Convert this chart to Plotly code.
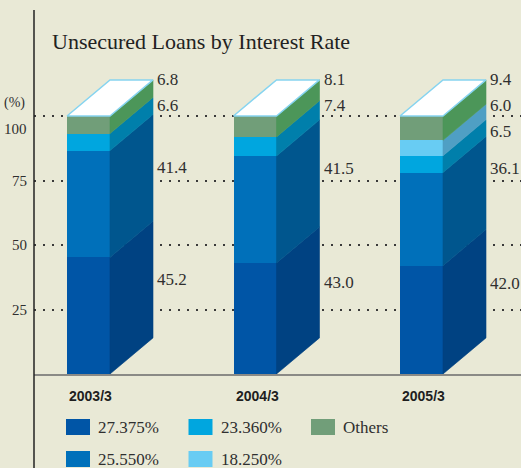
import numpy as np
import plotly.graph_objects as go

# ---- data -------------------------------------------------------------
periods = ["2003/3", "2004/3", "2005/3"]
rate_names = ["27.375%", "25.550%", "23.360%", "18.250%", "Others"]
rate_27375 = [45.2, 43.0, 42.0]
rate_25550 = [41.4, 41.5, 36.1]
rate_23360 = [6.6, 7.4, 6.5]
rate_18250 = [0.0, 0.0, 6.0]
rate_others = [6.8, 8.1, 9.4]
y_ticks = [25, 50, 75, 100]

# ---- styling ----------------------------------------------------------
BG = "#E9E9D6"
TEXT = "#2f2f2f"
SERIF = "Liberation Serif, Times New Roman, serif"
SANS = "Liberation Sans, Arial, sans-serif"
front_colors = ["#0055A6", "#0070BA", "#00A6DF", "#68CCF3", "#719E79"]
side_colors = ["#004282", "#00568E", "#007FAB", "#4F9FC4", "#4C9659"]
top_fill = "#FFFFFF"
top_edge = "#86D4F0"

W, H = 521, 468
M_L, M_R, M_T, M_B = 34, 0, 10, 94
PLOT_W = W - M_L - M_R
PLOT_H = H - M_T - M_B
PX_PER_PCT = 2.58          # vertical scale
PX_PER_CAT = 166.5         # spacing between the bars
FIRST_BAR_PX = 54.5        # first bar centre, measured from the plot's left edge

BAR_W = 43 / PX_PER_CAT    # front face width
DEPTH_X = 43 / PX_PER_CAT  # oblique depth, horizontal part
DEPTH_Y = 14.0             # oblique depth, vertical part (in %)
LABEL_GAP = 10.0           # vertical spacing between stacked value labels
GRID_CLEAR = 4.5           # keep value labels this far above a gridline

x_pos = np.arange(len(periods), dtype=float)
values = np.array([rate_27375, rate_25550, rate_23360, rate_18250, rate_others], dtype=float)
tops = np.cumsum(values, axis=0)
bottoms = tops - values
x_left = x_pos - BAR_W / 2
x_right = x_pos + BAR_W / 2

fig = go.Figure()

# front faces
for i, name in enumerate(rate_names):
    fig.add_trace(go.Bar(
        x=x_pos, y=values[i], base=bottoms[i], width=BAR_W, name=name,
        marker=dict(color=front_colors[i], line=dict(width=0)),
        showlegend=False, hoverinfo="skip",
    ))

# side faces (one trace per series, polygons separated by None)
for i, name in enumerate(rate_names):
    xs, ys = [], []
    for j in range(len(periods)):
        if values[i, j] <= 0:
            continue
        b, t, xr = bottoms[i, j], tops[i, j], x_right[j]
        xs += [xr, xr + DEPTH_X, xr + DEPTH_X, xr, xr, None]
        ys += [b, b + DEPTH_Y, t + DEPTH_Y, t, b, None]
    fig.add_trace(go.Scatter(
        x=xs, y=ys, mode="lines", fill="toself", fillcolor=side_colors[i],
        line=dict(color=side_colors[i], width=0.6),
        showlegend=False, hoverinfo="skip",
    ))

# top faces
xs, ys = [], []
for j in range(len(periods)):
    t = tops[-1, j]
    xl, xr = x_left[j], x_right[j]
    xs += [xl, xl + DEPTH_X, xr + DEPTH_X, xr, xl, None]
    ys += [t, t + DEPTH_Y, t + DEPTH_Y, t, t, None]
fig.add_trace(go.Scatter(
    x=xs, y=ys, mode="lines", fill="toself", fillcolor=top_fill,
    line=dict(color=top_edge, width=1.5), showlegend=False, hoverinfo="skip",
))

annotations = []

# value labels beside the side faces: the top one level with the back edge
# of the top face, thin segments packed right below it, large segments at
# their middle (lifted clear of a dotted gridline when they sit on one)
for j in range(len(periods)):
    prev = None
    for i in reversed(range(len(rate_names))):
        v = values[i, j]
        if v <= 0:
            continue
        mid = (bottoms[i, j] + tops[i, j]) / 2 + DEPTH_Y
        if prev is None:
            pos = tops[-1, j] + DEPTH_Y
        elif v < LABEL_GAP:
            pos = prev - LABEL_GAP
        else:
            pos = min(mid, prev - LABEL_GAP)
            for g in y_ticks:
                if abs(pos - g) < GRID_CLEAR:
                    pos = g + GRID_CLEAR
        prev = pos
        annotations.append(dict(
            x=x_right[j] + DEPTH_X, y=pos, xref="x", yref="y",
            text=f"{v:.1f}", showarrow=False, xanchor="left", yanchor="middle",
            xshift=2, font=dict(family=SERIF, size=17, color=TEXT),
        ))

# category labels
for j, p in enumerate(periods):
    annotations.append(dict(
        x=x_pos[j], y=0, xref="x", yref="y", text=f"<b>{p}</b>",
        showarrow=False, yanchor="middle", yshift=-22, xshift=2,
        font=dict(family=SANS, size=14, color="#1e1e1e"),
    ))

# y tick labels (top one nudged below its gridline, unit above it)
for t in y_ticks:
    annotations.append(dict(
        x=0, y=t, xref="paper", yref="y", text=str(t), showarrow=False,
        xanchor="right", yanchor="middle", xshift=-5,
        yshift=-13 if t == max(y_ticks) else 0,
        font=dict(family=SERIF, size=15, color=TEXT),
    ))
annotations.append(dict(
    x=0, y=max(y_ticks), xref="paper", yref="y", text="(%)", showarrow=False,
    xanchor="right", yanchor="middle", xshift=-7, yshift=13,
    font=dict(family=SERIF, size=14, color=TEXT),
))


def paper_x(px):
    return (px - M_L) / PLOT_W


def paper_y(py):
    return (H - M_B - py) / PLOT_H


# title
annotations.append(dict(
    x=paper_x(50), y=paper_y(41), xref="paper", yref="paper",
    text="Unsecured Loans by Interest Rate", showarrow=False,
    xanchor="left", yanchor="middle",
    font=dict(family=SERIF, size=22, color="#222222"),
))

# legend (row-major, three columns)
shapes = []
legend_order = [0, 2, 4, 1, 3]
col_px = [66, 188.5, 311]
row_px = [427, 459]
for k, idx in enumerate(legend_order):
    cx, cy = col_px[k % 3], row_px[k // 3]
    shapes.append(dict(
        type="rect", xref="paper", yref="paper",
        x0=paper_x(cx), x1=paper_x(cx + 24), y0=paper_y(cy + 8), y1=paper_y(cy - 8),
        fillcolor=front_colors[idx], line=dict(width=0),
    ))
    annotations.append(dict(
        x=paper_x(cx + 30), y=paper_y(cy), xref="paper", yref="paper",
        text=rate_names[idx], showarrow=False, xanchor="left", yanchor="middle",
        font=dict(family=SERIF, size=17, color=TEXT),
    ))

# vertical axis rule running down through the legend area
shapes.append(dict(
    type="line", xref="paper", yref="paper", x0=0, x1=0,
    y0=paper_y(H + 2), y1=1, line=dict(color="#222222", width=1.5),
))

x0_range = -FIRST_BAR_PX / PX_PER_CAT
fig.update_layout(
    width=W, height=H,
    margin=dict(l=M_L, r=M_R, t=M_T, b=M_B, pad=0),
    paper_bgcolor=BG, plot_bgcolor=BG,
    barmode="overlay", bargap=0,
    showlegend=False,
    xaxis=dict(
        range=[x0_range, x0_range + PLOT_W / PX_PER_CAT],
        showgrid=False, zeroline=False, showticklabels=False, ticks="",
        showline=True, linecolor="#8a8a86", linewidth=2, fixedrange=True,
    ),
    yaxis=dict(
        range=[0, PLOT_H / PX_PER_PCT],
        tickvals=y_ticks, showticklabels=False, ticks="",
        showgrid=True, gridcolor="#3a3a3a", gridwidth=2, griddash="2px,7px",
        zeroline=False, showline=False, fixedrange=True,
    ),
    annotations=annotations,
    shapes=shapes,
)

fig.write_html("out.html")
